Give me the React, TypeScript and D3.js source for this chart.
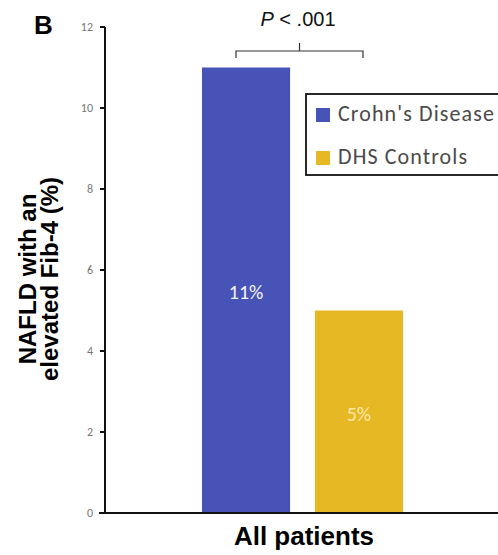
import React from "react";
import * as d3 from "d3";

const categories = ["Crohn's Disease", "DHS Controls"];
const values = [11, 5];
const barLabels = ["11%", "5%"];
const colors = ["#4753b6", "#e6b823"];
const labelColors = ["#f4f4fb", "#fde7a8"];
const yTicks = [0, 2, 4, 6, 8, 10, 12];
const groupLabel = "All patients";
const pLabel = ".001";

export default function App() {
  const W = 498, H = 555;
  const y = d3.scaleLinear().domain([0, 12]).range([513, 27]);
  const x = d3.scaleBand().domain(categories).range([202, 403]).paddingInner(0.22).paddingOuter(0);
  const axisX = 105;
  const calibri = "Carlito, 'Open Sans', 'Noto Sans', sans-serif";
  const arial = "'Liberation Sans', Arial, sans-serif";
  const bx0 = x(categories[0])!;
  const bx1 = x(categories[1])! + x.bandwidth();
  const bMid = (bx0 + bx1) / 2;
  return (
    <svg width={W} height={H} style={{ position: "absolute", left: 0, top: 0, background: "#fff" }}>
      <text x={34} y={34} fontFamily={arial} fontWeight="bold" fontSize={26}>B</text>
      {/* y axis */}
      <line x1={axisX} x2={axisX} y1={y(12)} y2={y(0)} stroke="#111" strokeWidth={2} />
      {yTicks.map((t) => (
        <g key={t}>
          <line x1={axisX - 5} x2={axisX} y1={y(t)} y2={y(t)} stroke="#111" strokeWidth={2} />
          <text x={axisX - 12} y={y(t) + 4} textAnchor="end" fontSize={12} fill="#777" fontFamily={calibri}>{t}</text>
        </g>
      ))}
      {/* bars */}
      {categories.map((c, i) => (
        <rect key={c} x={x(c)} y={y(values[i])} width={x.bandwidth()} height={y(0) - y(values[i])} fill={colors[i]} />
      ))}
      <text x={x(categories[0])! + x.bandwidth() / 2} y={299} textAnchor="middle" fontSize={20} fill={labelColors[0]} fontFamily={calibri}>{barLabels[0]}</text>
      <text x={x(categories[1])! + x.bandwidth() / 2} y={421} textAnchor="middle" fontSize={20} fill={labelColors[1]} fontFamily={calibri}>{barLabels[1]}</text>
      {/* x axis */}
      <line x1={axisX - 6} x2={W} y1={y(0)} y2={y(0)} stroke="#111" strokeWidth={2} />
      <text x={304} y={545} textAnchor="middle" fontSize={26} fontWeight="bold" fontFamily={arial}>{groupLabel}</text>
      {/* y label */}
      <g transform="translate(0,279) rotate(-90)">
        <text x={0} y={36} textAnchor="middle" fontSize={24} fontWeight="bold" fontFamily={arial}>NAFLD with an</text>
        <text x={0} y={58} textAnchor="middle" fontSize={24} fontWeight="bold" fontFamily={arial}>elevated Fib-4 (%)</text>
      </g>
      {/* significance bracket */}
      <path d={`M${bx0 + 34},58 V51 H${bx1 - 40} V58 M${bMid - 3},51 V43`} fill="none" stroke="#333" strokeWidth={1.2} />
      <text x={298} y={26} textAnchor="middle" fontSize={20} fontFamily={arial} fill="#111">
        <tspan fontStyle="italic">P</tspan> {"<"} {pLabel}
      </text>
      {/* legend */}
      <rect x={306} y={94} width={200} height={81} fill="#fff" stroke="#111" strokeWidth={1.8} />
      {categories.map((c, i) => (
        <g key={c}>
          <rect x={316} y={108 + i * 43} width={14} height={14} fill={colors[i]} />
          <text x={338} y={121 + i * 43} fontSize={22} letterSpacing={1.1} fill="#4a4a4a" fontFamily={calibri}>{c}</text>
        </g>
      ))}
    </svg>
  );
}
